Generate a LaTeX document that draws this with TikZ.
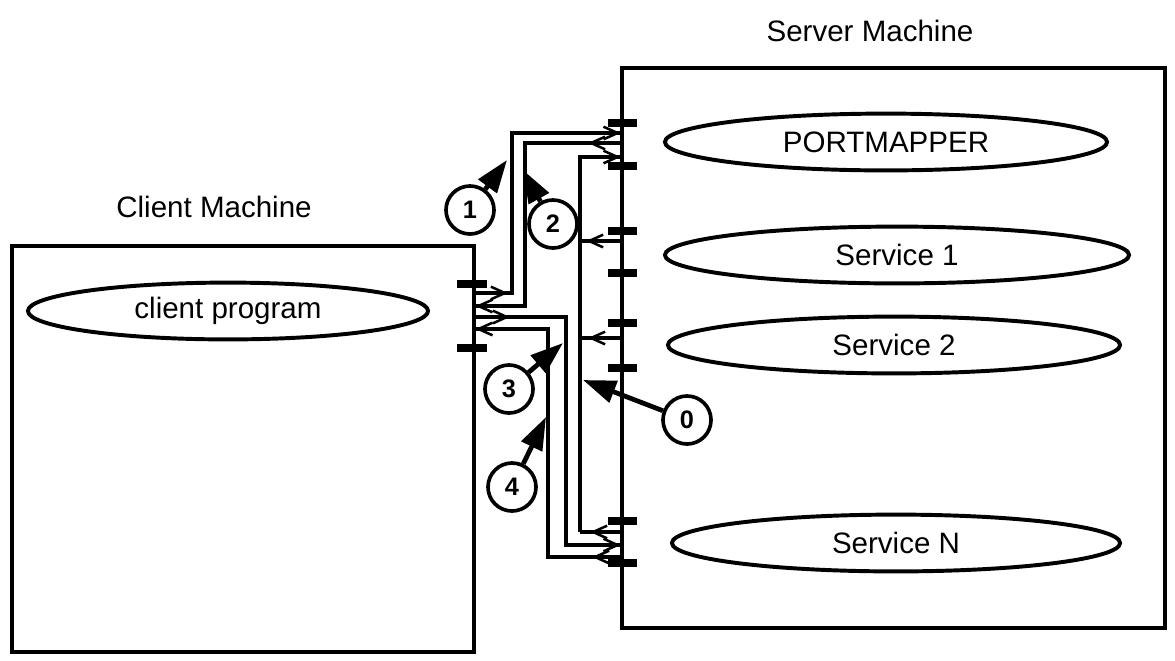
\documentclass[tikz,border=0pt]{standalone}
\usepackage{fontspec}
\setmainfont{Liberation Sans}
\usetikzlibrary{shapes.geometric,arrows.meta,decorations.markings}

\begin{document}
\begin{tikzpicture}[x=0.025cm,y=-0.025cm,
    every node/.style={font=\fontsize{21}{25}\selectfont},
    box/.style={line width=2.8pt},
    proc/.style={draw,ellipse,line width=2.8pt,minimum height=1.42cm,inner sep=0pt},
    port/.style={line width=5pt},
    wire/.style={line width=2.5pt},
    barb/.style={postaction={decorate,decoration={markings,mark=at position #1 with {\arrow[line width=1.8pt]{Straight Barb[length=10pt,width=9pt]}}}}},
    num/.style={draw,circle,line width=2.6pt,minimum size=1.2cm,inner sep=0pt,font=\fontsize{18}{20}\selectfont\bfseries},
    callout/.style={line width=3.4pt,-{Triangle[length=0.82cm,width=0.56cm]}}]
    \useasboundingbox (0,0) rectangle (1175,660);
    \draw[box] (622,68) rectangle (1165,628);
    \draw[box] (12,246) rectangle (474,652);
    \node (srvlbl) at (870,31) {Server Machine};
    \node (clilbl) at (214,207) {Client Machine};
    \node[proc,minimum width=11.05cm] (pmap) at (886,142) {PORTMAPPER};
    \node[proc,minimum width=11.6cm] (svc1) at (897,255) {Service 1};
    \node[proc,minimum width=11.3cm] (svc2) at (894,345) {Service 2};
    \node[proc,minimum width=11.2cm] (svcn) at (896,543) {Service N};
    \node[proc,minimum width=10cm] (cprog) at (228,311) {client program};
    \foreach \y in {123,166,231,273,323,368,521,563}
      \draw[port] (608,\y) -- (637,\y);
    \foreach \y in {284,348}
      \draw[port] (457,\y) -- (487,\y);
    % wall points
    \coordinate (cli1) at (474,293);
    \coordinate (cli2) at (474,306);
    \coordinate (cli3) at (474,317);
    \coordinate (cli4) at (474,329);
    \coordinate (srv1) at (622,133);
    \coordinate (srv2) at (622,143);
    \coordinate (reg0) at (622,157);
    \coordinate (srv3) at (622,545);
    \coordinate (srv4) at (622,557);
    \coordinate (reg1) at (622,241);
    \coordinate (reg2) at (622,338);
    \coordinate (regn) at (622,532);
    \draw[wire,barb=0.85cm,barb=-1pt] (cli1) -- ++(38,0) |- (srv1);
    \draw[wire,barb=0.85cm,barb=-1pt] (srv2) -- ++(-97,0) |- (cli2);
    \draw[wire,barb=0.9cm,barb=-1pt] (cli3) -- ++(92,0) |- (srv3);
    \draw[wire,barb=0.75cm,barb=-1pt] (srv4) -- ++(-74,0) |- (cli4);
    \draw[wire,barb=-1pt] (regn) ++(-42,0) |- (reg0);
    \draw[wire,barb=0.9cm] (reg1) -- ++(-42,0);
    \draw[wire,barb=0.85cm] (reg2) -- ++(-42,0);
    \draw[wire,barb=0.8cm] (regn) -- ++(-42,0);
    \node[num] (n1) at (470,210) {1};
    \node[num] (n2) at (553,224) {2};
    \node[num] (n3) at (509,389) {3};
    \node[num] (n4) at (512,487) {4};
    \node[num] (n0) at (687,420) {0};
    \coordinate (t1) at (507,160);
    \coordinate (t2) at (523,170);
    \coordinate (t3) at (563,343);
    \coordinate (t4) at (546,417);
    \coordinate (t0) at (583,380);
    \draw[callout] (n1) -- (t1);
    \draw[callout] (n2) -- (t2);
    \draw[callout] (n3) -- (t3);
    \draw[callout] (n4) -- (t4);
    \draw[callout] (n0) -- (t0);
  \end{tikzpicture}
\end{document}
